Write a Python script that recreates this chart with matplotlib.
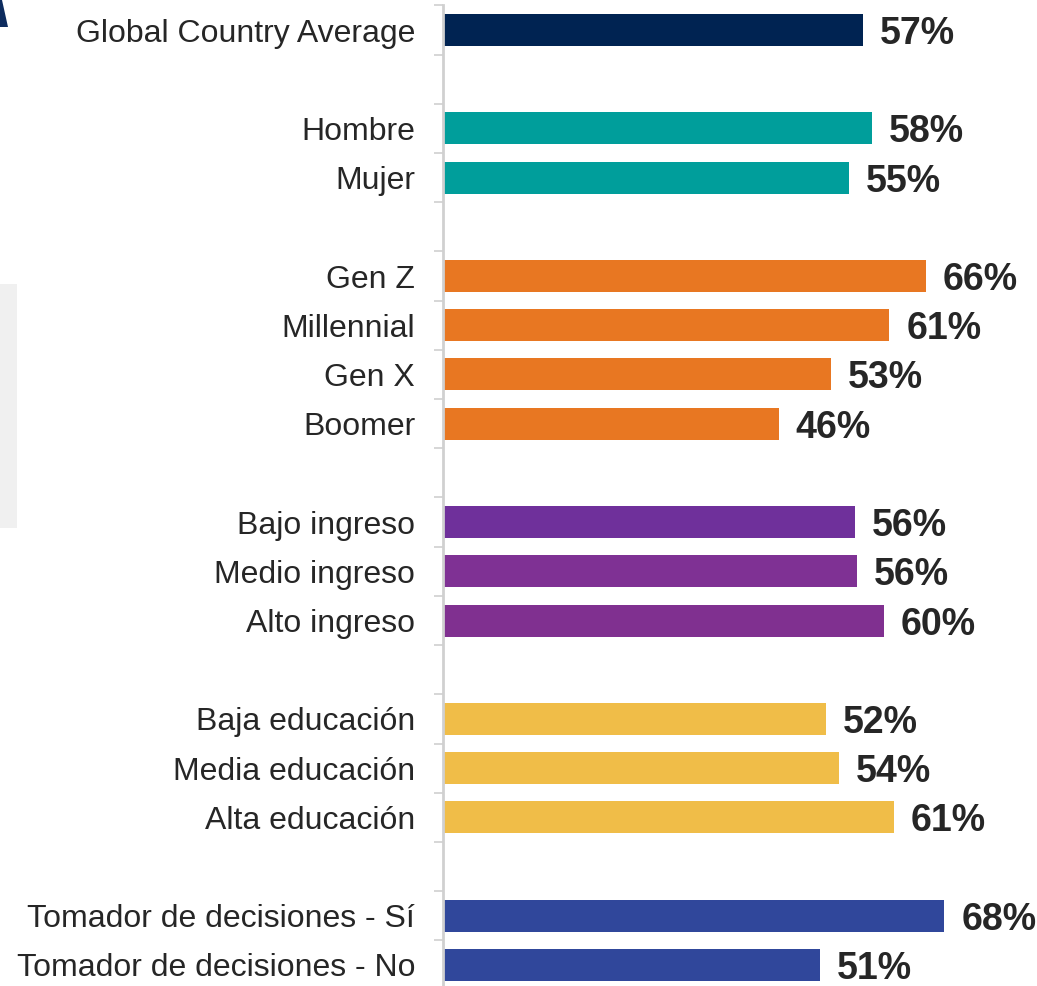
import matplotlib
matplotlib.use("Agg")
import matplotlib.pyplot as plt
from matplotlib.patches import Rectangle, Polygon

plt.rcParams['font.family'] = ['Liberation Sans', 'DejaVu Sans']

categories = ["Global Country Average", "",
              "Hombre", "Mujer", "",
              "Gen Z", "Millennial", "Gen X", "Boomer", "",
              "Bajo ingreso", "Medio ingreso", "Alto ingreso", "",
              "Baja educación", "Media educación", "Alta educación", "",
              "Tomador de decisiones - Sí", "Tomador de decisiones - No"]
values = [57.2, None,
          58.4, 55.3, None,
          65.8, 60.8, 52.9, 45.7, None,
          56.1, 56.4, 60.0, None,
          52.1, 53.9, 61.4, None,
          68.3, 51.4]
labels = ["57%", "",
          "58%", "55%", "",
          "66%", "61%", "53%", "46%", "",
          "56%", "56%", "60%", "",
          "52%", "54%", "61%", "",
          "68%", "51%"]
colors = ["#002352", None,
          "#009e9b", "#009e9b", None,
          "#e87722", "#e87722", "#e87722", "#e87722", None,
          "#6f309b", "#7f3194", "#803090", None,
          "#f0bd48", "#f0bd48", "#f0bd48", None,
          "#30479b", "#30479b"]

W, H = 1037, 986
fig = plt.figure(figsize=(W / 100, H / 100), dpi=100)

ax_left, ax_right = 443, 1037
ax_top, ax_bottom = 5.4, 989.6
ax = fig.add_axes([ax_left / W, (H - ax_bottom) / H,
                   (ax_right - ax_left) / W, (ax_bottom - ax_top) / H])

n = len(categories)
ypos = list(range(n))
for y, v, c, lab in zip(ypos, values, colors, labels):
    if v is None:
        continue
    ax.barh(y, v, height=0.65, color=c, left=0)
    ax.text(v + 2.3, y, lab, va='center_baseline', ha='left', fontsize=27,
            fontweight='bold', color='#262626', clip_on=False)

ax.set_ylim(n - 0.5, -0.5)
ax.set_xlim(0, (ax_right - ax_left - 1) / 7.33)
ax.set_yticks([i - 0.5 for i in range(n + 1)])
ax.set_yticklabels([])
ax.set_yticks(ypos, minor=True)
ax.set_yticklabels(categories, minor=True, fontsize=23, color='#262626',
                   va='center_baseline')
ax.tick_params(axis='y', which='major', length=6.5, width=1.2, color='#d0d0d0')
ax.tick_params(axis='y', which='minor', length=0, pad=20)
ax.set_xticks([])
for s in ['top', 'right', 'bottom']:
    ax.spines[s].set_visible(False)
ax.spines['left'].set_color('#d0d0d0')
ax.spines['left'].set_linewidth(2)

fig.patches.append(Rectangle((0, 1 - 528 / H), 17 / W, (528 - 284) / H,
                             transform=fig.transFigure, facecolor='#f0f0f0',
                             edgecolor='none'))
fig.patches.append(Polygon([(0, 1), (2 / W, 1), (8 / W, 1 - 27 / H), (0, 1 - 27 / H)],
                           closed=True, transform=fig.transFigure,
                           facecolor='#0d2b5e', edgecolor='none'))

fig.savefig("out.png", dpi=100)
